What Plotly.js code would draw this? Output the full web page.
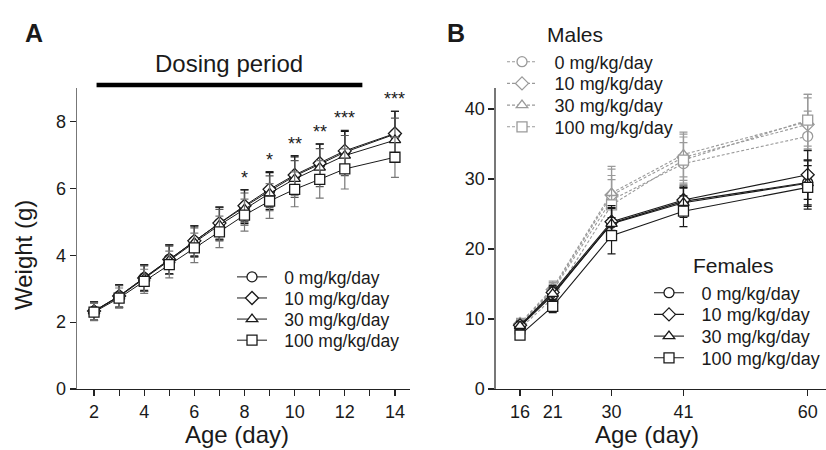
<!DOCTYPE html>
<html>
<head>
<meta charset="utf-8">
<script src="https://cdn.plot.ly/plotly-3.0.1.min.js"></script>
<style>html,body{margin:0;padding:0;background:#fff;}#chart{width:826px;height:450px;}</style>
</head>
<body>
<div id="chart"></div>
<script>
// ---------- Panel A data (pups, days 2-14) ----------
var daysA = [2, 3, 4, 5, 6, 7, 8, 9, 10, 11, 12, 14];
var doseNames = ['0 mg/kg/day', '10 mg/kg/day', '30 mg/kg/day', '100 mg/kg/day'];
var a0   = [2.33, 2.78, 3.33, 3.88, 4.42, 4.95, 5.45, 5.92, 6.37, 6.72, 7.08, 7.62];
var a10  = [2.33, 2.78, 3.32, 3.87, 4.43, 4.96, 5.48, 5.97, 6.40, 6.75, 7.12, 7.64];
var a30  = [2.32, 2.76, 3.30, 3.85, 4.38, 4.90, 5.38, 5.85, 6.28, 6.62, 6.98, 7.44];
var a100 = [2.30, 2.72, 3.22, 3.72, 4.22, 4.70, 5.20, 5.62, 5.97, 6.27, 6.58, 6.93];
var sdA0   = [0.27, 0.33, 0.38, 0.43, 0.46, 0.49, 0.50, 0.55, 0.57, 0.60, 0.62, 0.68];
var sdA10  = [0.28, 0.34, 0.40, 0.44, 0.45, 0.48, 0.48, 0.53, 0.58, 0.58, 0.61, 0.66];
var sdA30  = [0.27, 0.33, 0.38, 0.42, 0.44, 0.47, 0.48, 0.52, 0.55, 0.57, 0.60, 0.66];
var sdA100 = [0.26, 0.30, 0.36, 0.40, 0.44, 0.47, 0.48, 0.52, 0.52, 0.56, 0.60, 0.60];
var starDays  = [8, 9, 10, 11, 12, 14];
var starTexts = ['*', '*', '**', '**', '***', '***'];
var tickValsA = [2, 3, 4, 5, 6, 7, 8, 9, 10, 11, 12, 13, 14];
var tickTextA = ['2', '', '4', '', '6', '', '8', '', '10', '', '12', '', '14'];
var dosingStart = 2.1, dosingEnd = 12.7;

// ---------- Panel B data (days 16-60) ----------
var daysB = [16, 21, 30, 41, 60];
var f0   = [8.9, 13.4, 23.7, 26.8, 29.5];
var f10  = [9.1, 13.8, 23.9, 27.0, 30.6];
var f30  = [9.0, 13.6, 23.6, 26.6, 29.4];
var f100 = [7.7, 11.8, 21.9, 25.4, 28.8];
var sdF0   = [0.6, 1.0, 2.2, 2.0, 3.2];
var sdF10  = [0.6, 1.0, 2.3, 2.0, 3.5];
var sdF30  = [0.6, 1.0, 2.2, 2.1, 3.3];
var sdF100 = [0.6, 0.9, 2.6, 2.2, 3.1];
var m0   = [9.2, 14.0, 27.0, 32.2, 36.1];
var m10  = [9.3, 14.2, 27.7, 33.1, 37.8];
var m30  = [9.4, 14.4, 28.0, 33.5, 38.2];
var m100 = [8.6, 13.0, 26.3, 32.7, 38.4];
var sdM0   = [0.7, 1.0, 3.5, 3.0, 3.6];
var sdM10  = [0.7, 1.0, 3.7, 3.3, 3.8];
var sdM30  = [0.7, 1.0, 3.8, 3.2, 3.9];
var sdM100 = [0.7, 1.0, 3.6, 3.3, 3.7];
var tickValsB = [16, 21, 30, 41, 60];

var symbols = ['circle', 'diamond', 'triangle-up', 'square'];
var FONT = 'Liberation Sans, Arial, Helvetica, sans-serif';
var TXT = '#1a1a1a';
var GAP = '\u2002\u2009'; // visual gap between legend symbol and label

var seriesA = [[a0, sdA0], [a10, sdA10], [a30, sdA30], [a100, sdA100]];
var seriesF = [[f0, sdF0], [f10, sdF10], [f30, sdF30], [f100, sdF100]];
var seriesM = [[m0, sdM0], [m10, sdM10], [m30, sdM30], [m100, sdM100]];
var errColA = ['#111', '#222', '#555', '#777'];

var traces = [];
var legends = {};
var legendCount = 0;
function addLegend(xpx, ypx, size) {
  legendCount++;
  var key = legendCount === 1 ? 'legend' : 'legend' + legendCount;
  legends[key] = {
    x: xpx / 826, y: 1 - ypx / 450, xanchor: 'left', yanchor: 'middle',
    bgcolor: 'rgba(0,0,0,0)', borderwidth: 0, itemwidth: 30,
    font: {family: FONT, size: size, color: TXT}
  };
  return key;
}

// Panel B males (drawn first, behind)
seriesM.forEach(function (s, i) {
  traces.push({
    x: daysB, y: s[0], name: GAP + doseNames[i], xaxis: 'x2', yaxis: 'y2',
    mode: 'lines+markers', type: 'scatter',
    line: {color: '#9a9a9a', width: 1.1, dash: '3px,2px'},
    marker: {symbol: symbols[i], size: 10, color: '#fff', line: {color: '#9a9a9a', width: 1.3}},
    error_y: {type: 'data', array: s[1], visible: true, color: '#9a9a9a', thickness: 1.2, width: 4},
    legend: addLegend(502, 62 + i * 21.7, 18)
  });
});
// Panel B females
seriesF.forEach(function (s, i) {
  traces.push({
    x: daysB, y: s[0], name: GAP + doseNames[i], xaxis: 'x2', yaxis: 'y2',
    mode: 'lines+markers', type: 'scatter',
    line: {color: '#1a1a1a', width: 1.1},
    marker: {symbol: symbols[i], size: 10, color: '#fff', line: {color: '#1a1a1a', width: 1.3}},
    error_y: {type: 'data', array: s[1], visible: true, color: '#1a1a1a', thickness: 1.2, width: 4},
    legend: addLegend(649, 293 + i * 21.7, 18)
  });
});
// Panel A
seriesA.forEach(function (s, i) {
  traces.push({
    x: daysA, y: s[0], name: GAP + doseNames[i], xaxis: 'x', yaxis: 'y',
    mode: 'lines+markers', type: 'scatter',
    line: {color: '#1a1a1a', width: 1},
    marker: {symbol: symbols[i], size: 10, color: '#fff', line: {color: '#1a1a1a', width: 1.3}},
    error_y: {type: 'data', array: s[1], visible: true, color: errColA[i], thickness: 1.2, width: 4},
    legend: addLegend(232, 277 + i * 21.1, 17.5)
  });
});

// star annotations: above highest error bar at each day
var annotations = [];
starDays.forEach(function (d, k) {
  var idx = daysA.indexOf(d);
  var top = Math.max(a0[idx] + sdA0[idx], a10[idx] + sdA10[idx], a30[idx] + sdA30[idx], a100[idx] + sdA100[idx]);
  annotations.push({x: d, y: top, xref: 'x', yref: 'y', text: starTexts[k], showarrow: false,
    xanchor: 'center', yanchor: 'bottom', yshift: 0, font: {family: FONT, size: 18, color: TXT}});
});
function label(xpx, ypx, text, size, xanchor, angle) {
  return {x: xpx / 826, y: 1 - ypx / 450, xref: 'paper', yref: 'paper', text: text, showarrow: false,
    xanchor: xanchor || 'center', yanchor: 'middle', textangle: angle || 0, borderpad: 0,
    font: {family: FONT, size: size, color: TXT}};
}
annotations.push(label(34, 33, '<b>A</b>', 25));
annotations.push(label(456, 33, '<b>B</b>', 25));
annotations.push(label(546, 34, 'Males', 21, 'left'));
annotations.push(label(692, 265, 'Females', 21, 'left'));
// axis titles
annotations.push(label(237, 434, 'Age (day)', 24));
annotations.push(label(647, 434, 'Age (day)', 24));
annotations.push(label(23, 255, 'Weight (g)', 24, 'center', -90));
annotations.push({x: (dosingStart + dosingEnd) / 2, y: 1 - 63 / 450, xref: 'x', yref: 'paper', text: 'Dosing period',
  showarrow: false, xanchor: 'center', yanchor: 'middle', font: {family: FONT, size: 24, color: TXT}});

var axisCommon = {
  showgrid: false, zeroline: false, showline: true, ticks: 'outside', ticklen: 6, tickwidth: 1.2,
  tickcolor: '#222', tickfont: {family: FONT, size: 18, color: TXT}
};
function ax(extra) { return Object.assign({}, axisCommon, extra); }

var layout = Object.assign({
  width: 826, height: 450,
  margin: {l: 0, r: 0, t: 0, b: 0},
  paper_bgcolor: '#fff', plot_bgcolor: '#fff',
  font: {family: FONT, color: TXT},
  showlegend: true,
  xaxis: ax({domain: [77 / 826, 410 / 826], range: [1.32, 14.6], tickvals: tickValsA, ticktext: tickTextA,
    linecolor: '#222', linewidth: 1.3, anchor: 'y'}),
  yaxis: ax({domain: [1 - 389 / 450, 1 - 88 / 450], range: [0, 9], tickvals: [0, 2, 4, 6, 8],
    linecolor: '#777', linewidth: 1.3, anchor: 'x'}),
  xaxis2: ax({domain: [495.7 / 826, 1], range: [12.28, 62.8], tickvals: tickValsB,
    linecolor: '#222', linewidth: 1.3, anchor: 'y2'}),
  yaxis2: ax({domain: [1 - 389 / 450, 1 - 88 / 450], range: [0, 43], tickvals: [0, 10, 20, 30, 40],
    linecolor: '#777', linewidth: 1.3, anchor: 'x2'}),
  shapes: [{type: 'line', xref: 'x', yref: 'paper', x0: dosingStart, x1: dosingEnd,
    y0: 1 - 85 / 450, y1: 1 - 85 / 450, line: {color: '#000', width: 4.5}}],
  annotations: annotations
}, legends);

Plotly.newPlot('chart', traces, layout, {displayModeBar: false, staticPlot: true});
</script>
</body>
</html>
